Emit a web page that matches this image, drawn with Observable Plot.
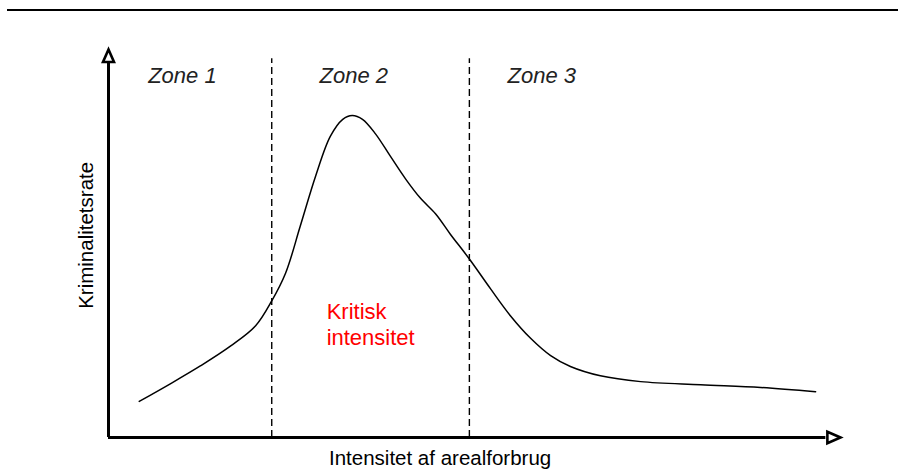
<!DOCTYPE html>
<html>
<head>
<meta charset="utf-8">
<script src="https://cdn.jsdelivr.net/npm/d3@7"></script>
<script src="https://cdn.jsdelivr.net/npm/@observablehq/plot@0.6"></script>
<style>
  html, body { margin: 0; padding: 0; background: #fff; }
  #wrap { position: relative; width: 898px; height: 470px; }
  #topline { position: absolute; left: 7px; right: 0; top: 9px; border-top: 2px solid #000; }
  #chart { position: absolute; left: 0; top: 0; }
</style>
</head>
<body>
<div id="wrap"><div id="topline"></div><div id="chart"></div></div>
<script>
// Curve: crime rate vs. land-use intensity (abstract units 0–100)
const intensity = [4.2, 8.5, 12.6, 16.7, 20.1, 22.3, 24.2, 26.2, 28.3, 30.3, 32.0, 33.3, 34.7, 36.5, 38.5, 40.6, 42.6, 44.7, 46.7, 49.3, 52.2, 54.9, 57.7, 60.4, 63.1, 67.2, 72.7, 80.9, 89.1, 96.6];
const crimeRate = [9.3, 13.9, 18.5, 23.6, 28.8, 35.2, 42.4, 54.5, 67.4, 77.6, 82.0, 83.0, 82.0, 78.2, 72.5, 66.6, 61.7, 57.6, 52.4, 46.0, 38.3, 31.4, 25.5, 21.1, 18.3, 15.9, 14.4, 13.6, 12.9, 11.8];

// Zone boundaries and labels
const zoneBoundaries = [22.3, 49.3];
const zoneNames = ["Zone 1", "Zone 2", "Zone 3"];
const zoneCenters = [10.1, 33.5, 59.2];

const criticalLabel = "Kritisk\nintensitet";
const xTitle = "Intensitet af arealforbrug";
const yTitle = "Kriminalitetsrate";

const curve = intensity.map((x, i) => ({x, y: crimeRate[i]}));
const zones = zoneNames.map((name, i) => ({name, x: zoneCenters[i]}));

const arrowHead = {
  draw(ctx, size) {
    const r = Math.sqrt(size / Math.PI);
    ctx.moveTo(0, 0);
    ctx.lineTo(-0.55 * r, 1.25 * r);
    ctx.lineTo(0.55 * r, 1.25 * r);
    ctx.closePath();
  }
};

const font = "'Liberation Sans', Arial, Helvetica, sans-serif";

const chart = Plot.plot({
  width: 898,
  height: 470,
  marginLeft: 108,
  marginRight: 58,
  marginTop: 49,
  marginBottom: 33,
  style: {fontFamily: font, background: "transparent"},
  x: {domain: [0, 100], axis: null},
  y: {domain: [0, 100], axis: null},
  marks: [
    Plot.ruleX(zoneBoundaries, {y1: 0, y2: 97.6, stroke: "#000", strokeWidth: 1.4, strokeDasharray: "7,4"}),
    Plot.line(curve, {x: "x", y: "y", curve: "catmull-rom", stroke: "#000", strokeWidth: 1.5}),
    Plot.ruleY([0], {x1: 0, x2: 98, stroke: "#000", strokeWidth: 3}),
    Plot.ruleX([0], {y1: 0, y2: 97, stroke: "#000", strokeWidth: 3}),
    Plot.dot([{x: 0, y: 100}], {x: "x", y: "y", symbol: arrowHead, r: 10, fill: "#fff", stroke: "#000", strokeWidth: 2.6}),
    Plot.dot([{x: 100, y: 0}], {x: "x", y: "y", symbol: arrowHead, r: 10.5, rotate: 90, fill: "#fff", stroke: "#000", strokeWidth: 2.6}),
    Plot.text(zones, {x: "x", y: 93.1, text: "name", fontSize: 22, fontStyle: "italic", fill: "#222", textAnchor: "middle"}),
    Plot.text([criticalLabel], {x: 29.8, y: 29.3, text: d => d, fontSize: 22, fill: "#ff0000", textAnchor: "start", lineHeight: 1.18}),
    Plot.text([xTitle], {x: 45.3, y: -5.4, text: d => d, fontSize: 20.5, fill: "#000", textAnchor: "middle"}),
    Plot.text([yTitle], {x: -3.0, y: 52.1, text: d => d, fontSize: 20.5, fill: "#000", textAnchor: "middle", rotate: -90})
  ]
});
document.getElementById("chart").appendChild(chart);
</script>
</body>
</html>
